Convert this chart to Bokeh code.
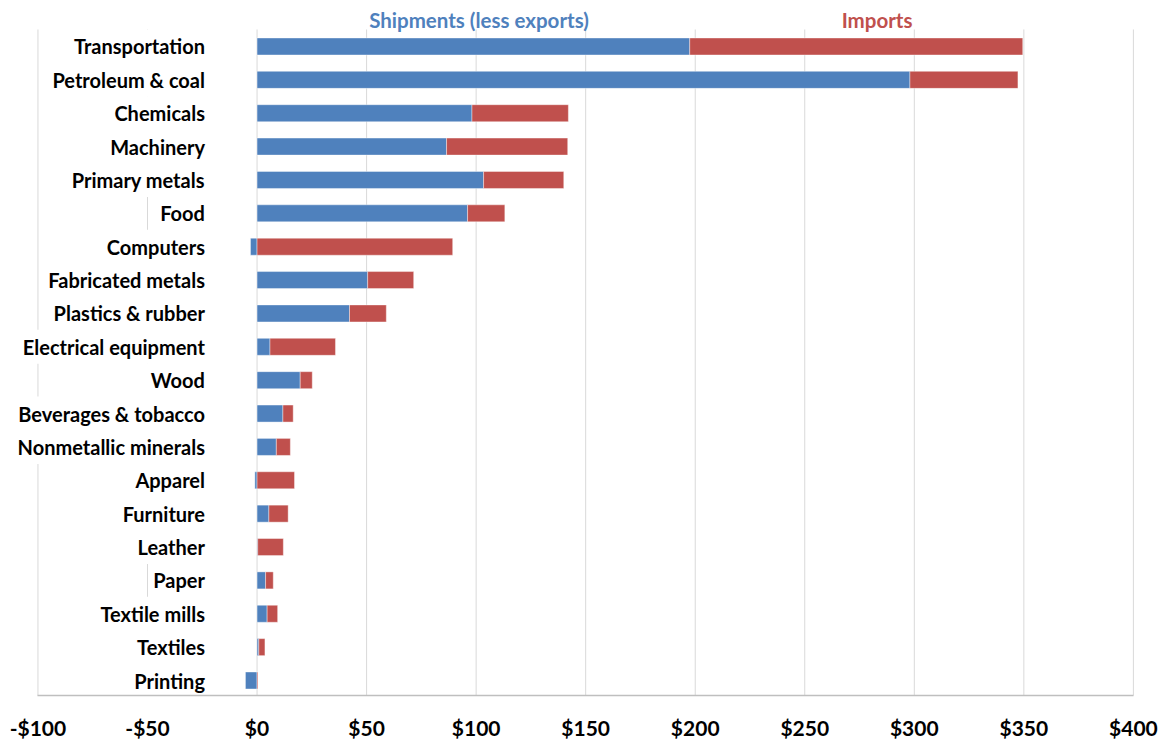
from bokeh.plotting import figure
from bokeh.models import Range1d, FixedTicker, ColumnDataSource
from bokeh.core.properties import value
from bokeh.embed import file_html
from bokeh.resources import INLINE

# ---- data (top to bottom) ----
categories = ["Transportation", "Petroleum & coal", "Chemicals", "Machinery",
              "Primary metals", "Food", "Computers", "Fabricated metals",
              "Plastics & rubber", "Electrical equipment", "Wood",
              "Beverages & tobacco", "Nonmetallic minerals", "Apparel",
              "Furniture", "Leather", "Paper", "Textile mills", "Textiles",
              "Printing"]
shipments = [197.5, 298.0, 98.1, 86.5, 103.4, 96.1, -3.0, 50.5, 42.2, 5.9,
             19.7, 11.8, 8.8, -1.0, 5.4, 0.3, 3.9, 4.6, 0.8, -5.3]
imports = [152.0, 49.3, 44.0, 55.3, 36.6, 17.0, 89.3, 21.0, 16.8, 29.9,
           5.5, 4.7, 6.4, 17.1, 8.8, 11.7, 3.5, 4.8, 2.8, 0.4]
series_names = ["Shipments (less exports)", "Imports"]
tick_values = [-100, -50, 0, 50, 100, 150, 200, 250, 300, 350, 400]
tick_labels = ["-$100", "-$50", "$0", "$50", "$100", "$150", "$200",
               "$250", "$300", "$350", "$400"]

BLUE = "#4F81BD"
RED = "#C0504D"
FONT = "Lato"

n = len(categories)
ypos = [n - 1 - i for i in range(n)]
ship_left = [min(0, s) for s in shipments]
ship_right = [max(0, s) for s in shipments]
imp_left = [max(0, s) for s in shipments]
imp_right = [max(0, s) + v for s, v in zip(shipments, imports)]

src = ColumnDataSource(dict(y=ypos, cat=categories, sl=ship_left, sr=ship_right,
                            il=imp_left, ir=imp_right))

p = figure(width=1164, height=740, x_range=Range1d(-117.1, 414.2),
           y_range=Range1d(-1.798, 20.378), output_backend="svg",
           toolbar_location=None, min_border=0)
p.outline_line_color = None
p.grid.visible = False
p.yaxis.visible = False

# vertical grid lines
grid_bottom = -0.45
grid_top = 19.51
p.segment(x0=tick_values, x1=tick_values, y0=[grid_bottom] * len(tick_values),
          y1=[grid_top] * len(tick_values), line_color="#D9D9D9", line_width=1)

# category labels (white boxes hide the grid behind them)
p.text(x=-21.5, y="y", text="cat", source=src, text_align="right",
       text_baseline="middle", text_font=value(FONT), text_font_style="bold",
       text_font_size="20px", text_color="black",
       background_fill_color="white", padding=5)

# bars
bh = 0.51
p.hbar(y="y", left="sl", right="sr", height=bh, source=src, fill_color=BLUE,
       line_color="white", line_alpha=0.5, line_width=0.8)
p.hbar(y="y", left="il", right="ir", height=bh, source=src, fill_color=RED,
       line_color="white", line_alpha=0.5, line_width=0.8)

# series labels
p.text(x=[101.3, 283.0], y=[19.78, 19.78], text=series_names,
       text_align="center", text_baseline="middle", text_font=value(FONT),
       text_font_style="bold", text_font_size="20.5px",
       text_color=[BLUE, RED])

# x axis
ax = p.xaxis[0]
ax.fixed_location = grid_bottom
ax.bounds = (tick_values[0], tick_values[-1])
ax.ticker = FixedTicker(ticks=tick_values)
ax.major_label_overrides = {v: t for v, t in zip(tick_values, tick_labels)}
ax.axis_line_color = "#BFBFBF"
ax.axis_line_width = 1.5
ax.major_tick_line_color = None
ax.minor_tick_line_color = None
ax.major_label_standoff = 13
ax.major_label_text_font = FONT
ax.major_label_text_font_style = "bold"
ax.major_label_text_font_size = "21px"
ax.major_label_text_color = "black"

open("out.html", "w").write(file_html(p, INLINE))
